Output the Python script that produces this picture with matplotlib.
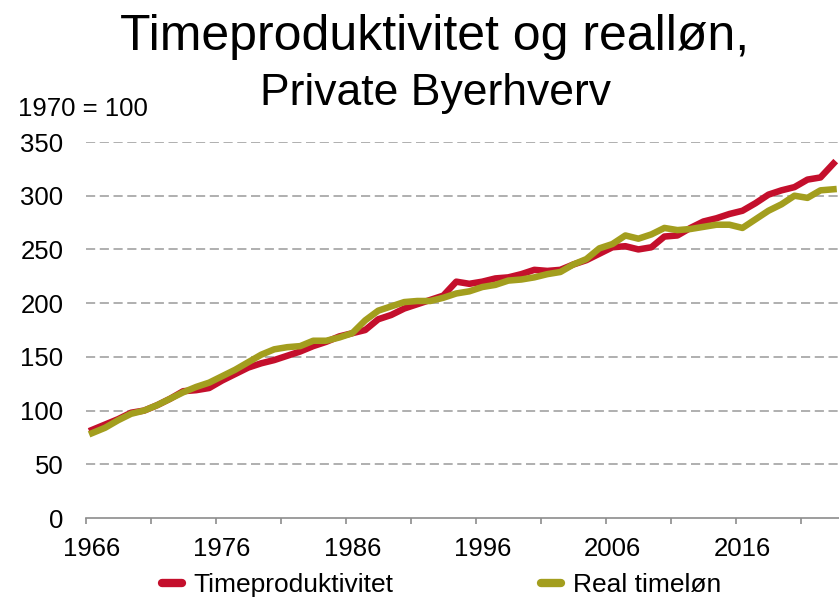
import matplotlib
matplotlib.use("Agg")
import matplotlib.pyplot as plt
from matplotlib.ticker import FixedLocator

plt.rcParams['font.family'] = ['Liberation Sans', 'DejaVu Sans']

years = list(range(1966, 2024))
timeproduktivitet = [82, 87, 92, 98, 100, 105, 111, 118, 119, 121,
                     128, 134, 140, 144, 147, 151, 155, 160, 164, 169,
                     172, 175, 185, 189, 195, 199, 203, 207, 220, 218,
                     220, 223, 224, 227, 231, 230, 231, 236, 240, 246,
                     252, 253, 250, 252, 262, 263, 270, 276, 279, 283,
                     286, 293, 301, 305, 308, 315, 317, 330]
real_timeloen = [79, 84, 91, 97, 100, 105, 111, 117, 122, 126,
                 132, 138, 145, 152, 157, 159, 160, 165, 165, 168,
                 172, 184, 193, 197, 201, 202, 202, 205, 209, 211,
                 215, 217, 221, 222, 224, 227, 229, 236, 241, 251,
                 255, 263, 260, 264, 270, 268, 269, 271, 273, 273,
                 270, 278, 286, 292, 300, 298, 305, 306]
labels = ["Timeproduktivitet", "Real timeløn"]
xtick_labels = [1966, 1976, 1986, 1996, 2006, 2016]
yticks = [0, 50, 100, 150, 200, 250, 300, 350]

red = '#C40F2C'
olive = '#A39E1E'
grid_c = '#9A9A9A'

fig = plt.figure(figsize=(8.39, 6.01), dpi=100)
ax = fig.add_axes([85.6/839, (601-518)/601, (840-85.6)/839, (518-142)/601])

ax.plot(years, timeproduktivitet, color=red, lw=4.7, solid_joinstyle='round', label=labels[0], zorder=3)
ax.plot(years, real_timeloen, color=olive, lw=4.7, solid_joinstyle='round', label=labels[1], zorder=4)

ax.set_xlim(1965.5, 2023.5)
ax.set_ylim(0, 350)
ax.set_yticks(yticks)
for v in yticks[1:]:
    ax.axhline(v, color=grid_c, lw=1.1, ls=(0, (6, 3)), zorder=1)

for s in ['top', 'right', 'left']:
    ax.spines[s].set_visible(False)
ax.spines['bottom'].set_color('#8C8C8C')
ax.spines['bottom'].set_linewidth(1.2)

ax.xaxis.set_major_locator(FixedLocator(xtick_labels))
ax.set_xticklabels([str(v) for v in xtick_labels])
ax.xaxis.set_minor_locator(FixedLocator([1965.5 + 5*k for k in range(12)]))
ax.tick_params(axis='x', which='major', length=0, pad=14, labelsize=18.5)
ax.tick_params(axis='x', which='minor', length=4, width=1.2, color='#8C8C8C', direction='out')
ax.tick_params(axis='y', length=0, pad=16, labelsize=18.5)

fig.text(435/839, 1 - 50/601, "Timeproduktivitet og realløn,", ha='center', va='baseline', fontsize=36)
fig.text(435/839, 1 - 105/601, "Private Byerhverv", ha='center', va='baseline', fontsize=32)
fig.text(18/839, 1 - 116/601, "1970 = 100", ha='left', va='baseline', fontsize=18.5)

leg = fig.legend(loc='center left', bbox_to_anchor=(162/839, 1 - 585/601), ncol=2, frameon=False,
                 fontsize=19, handlelength=0.75, handletextpad=0.45, columnspacing=5.6,
                 borderpad=0, borderaxespad=0)
for h in leg.get_lines():
    h.set_linewidth(6)
    h.set_solid_capstyle('round')

fig.savefig("out.png", dpi=100)
